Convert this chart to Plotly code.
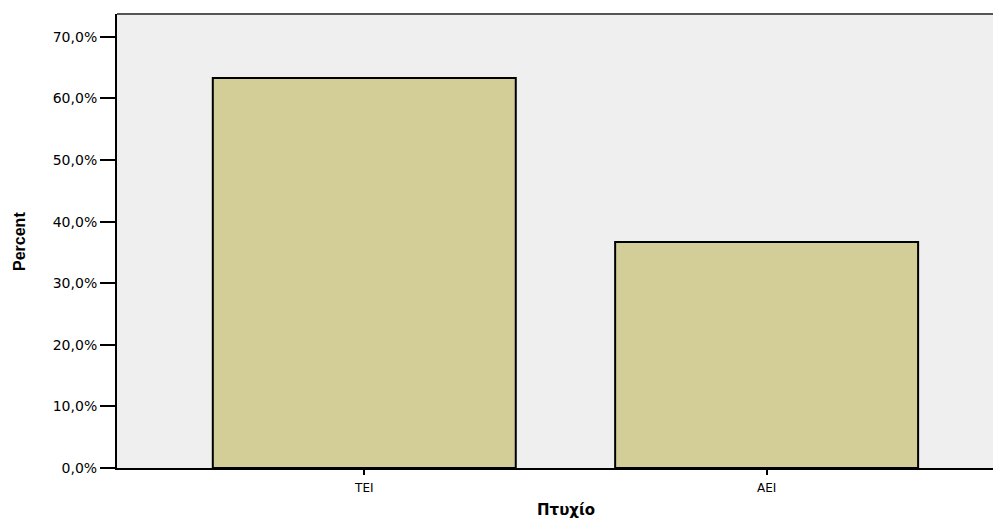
import plotly.graph_objects as go

categories = ["TEI", "AEI"]
percent = [63.3, 36.7]
y_ticks = [0, 10, 20, 30, 40, 50, 60, 70]
y_tick_labels = ["0,0%", "10,0%", "20,0%", "30,0%", "40,0%", "50,0%", "60,0%", "70,0%"]

fig = go.Figure()
fig.add_trace(go.Bar(
    x=[0, 1],
    y=percent,
    width=0.753,
    marker=dict(color="#D3CE98", line=dict(color="#000000", width=2)),
    hoverinfo="skip",
))

fig.update_layout(
    width=993, height=512,
    margin=dict(l=109, r=1, t=6, b=52),
    paper_bgcolor="#FFFFFF",
    plot_bgcolor="#EFEFEF",
    showlegend=False,
    xaxis=dict(
        range=[-0.6146, 1.580],
        tickmode="array", tickvals=[0, 1], ticktext=categories,
        ticks="outside", ticklen=5, tickwidth=1.5, tickcolor="#000000",
        ticklabelstandoff=3,
        showline=True, linecolor="#000000", linewidth=2,
        showgrid=False, zeroline=False,
        tickfont=dict(family="DejaVu Sans", size=12, color="#000000"),
    ),
    yaxis=dict(
        range=[0, 73.7],
        tickmode="array", tickvals=y_ticks, ticktext=y_tick_labels,
        ticks="outside", ticklen=15, tickwidth=1.5, tickcolor="#000000",
        showline=True, linecolor="#000000", linewidth=2,
        showgrid=False, zeroline=False,
        tickfont=dict(family="DejaVu Sans", size=14, color="#000000"),
    ),
    shapes=[dict(type="line", xref="paper", yref="paper", x0=0, x1=1, y0=1, y1=1,
                 line=dict(color="#555555", width=2))],
    annotations=[
        dict(text="<b>Percent</b>", xref="paper", yref="paper", x=-0.111, y=0.5,
             textangle=-90, showarrow=False, xanchor="center", yanchor="middle",
             font=dict(family="Liberation Sans", size=16, color="#000000")),
        dict(text="<b>Πτυχίο</b>", xref="paper", yref="paper", x=0.509, y=0,
             yshift=-42, showarrow=False, xanchor="center", yanchor="middle",
             font=dict(family="DejaVu Sans", size=15, color="#000000")),
    ],
)

fig.write_html("out.html")
